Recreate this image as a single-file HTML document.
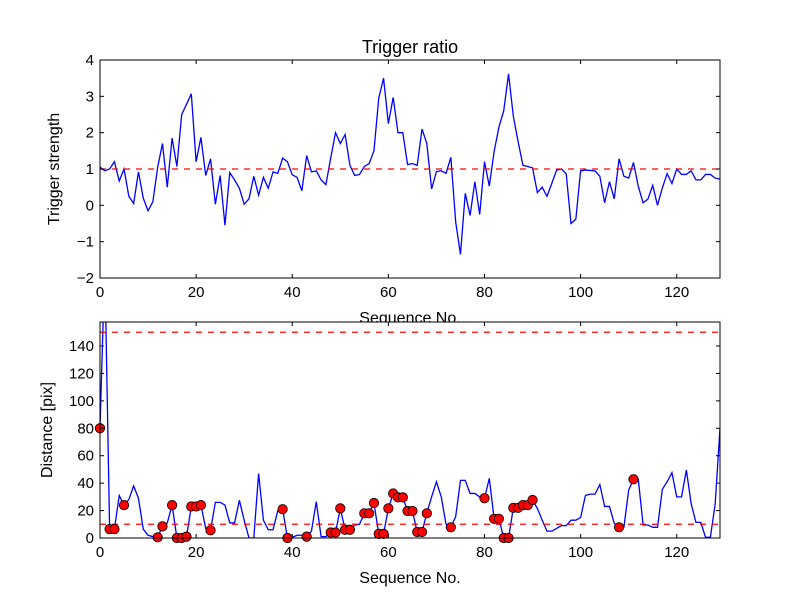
<!DOCTYPE html>
<html><head><meta charset="utf-8"><style>
body{margin:0;background:#fff;}
svg{display:block;font-family:"Liberation Sans","DejaVu Sans",sans-serif;}
</style></head><body>
<svg id="chart" width="800" height="600" viewBox="0 0 800 600" xmlns="http://www.w3.org/2000/svg">
<rect width="800" height="600" fill="#fff"/>
</svg>
<script>
const triggerValues=[1.05,0.95,1.0,1.2,0.67,1.0,0.25,0.05,0.92,0.2,-0.15,0.1,1.05,1.7,0.5,1.85,1.07,2.5,2.78,3.07,1.2,1.87,0.82,1.28,0.03,0.82,-0.55,0.9,0.7,0.47,0.03,0.18,0.8,0.28,0.77,0.47,0.92,0.88,1.3,1.2,0.84,0.77,0.4,1.37,0.92,0.95,0.7,0.57,1.3,2.0,1.7,1.95,1.1,0.82,0.85,1.07,1.15,1.5,2.95,3.5,2.25,2.97,2.0,2.0,1.12,1.15,1.1,2.1,1.7,0.45,0.93,0.95,0.88,1.32,-0.45,-1.35,0.33,-0.28,0.65,-0.25,1.2,0.53,1.48,2.15,2.6,3.62,2.45,1.75,1.1,1.07,1.03,0.35,0.5,0.25,0.6,0.97,1.0,0.87,-0.5,-0.38,0.95,0.97,0.96,0.95,0.8,0.07,0.65,0.18,1.28,0.8,0.75,1.18,0.52,0.07,0.17,0.55,0.0,0.48,0.87,0.6,1.0,0.85,0.85,0.95,0.7,0.7,0.85,0.85,0.75,0.72];
const distanceValues=[80,200,6.5,6.5,31,24,28,38,29,6.5,2,1,0.5,8.5,11,24,0,0,1,23,23,24,7,5.6,26,26,24,11,11,27.5,13,0,0,47,13,6,6,20,21,0,0.5,2,2,1,5,26.5,1,1,4,4,21.6,6,6,9.5,10,18,18,25.5,3,3,21.6,32.5,29.6,29.6,19.7,19.7,4.4,4.4,18,30,41,30,10,7.8,15.5,42,42,32.5,32.5,30,29,43.5,14,14,0,0,22,22,24,24,27.7,21.6,13,5,5,7,9,9,13,13,15,31,32,32,39,23,23,10.7,7.8,7.8,35,42.8,42.8,9.5,9.5,7.8,7.8,35.5,41,47.6,30,30,49.6,25,11.4,11.4,0.5,0.5,25,80];
const markerIndices=[0,2,3,5,12,13,15,16,17,18,19,20,21,23,38,39,43,48,49,50,51,52,55,56,57,58,59,60,61,62,63,64,65,66,67,68,73,80,82,83,84,85,86,87,88,89,90,108,111];
const xTicks=[0,20,40,60,80,100,120];
const topYTicks=[-2,-1,0,1,2,3,4];
const botYTicks=[0,20,40,60,80,100,120,140];
const topThreshold=[1];
const botThresholds=[150,10];

const NS="http://www.w3.org/2000/svg";
const svgEl=document.getElementById('chart');
function mk(tag,attrs,parent){const e=document.createElementNS(NS,tag);for(const k in attrs)e.setAttribute(k,attrs[k]);(parent||svgEl).appendChild(e);return e;}
const L=100,R=720,XMAX=129;
const sx=v=>L+(R-L)*v/XMAX;
const topAx={t:60,b:278,min:-2,max:4};
const botAx={t:322,b:538,min:0,max:157.5};
const syT=v=>topAx.b-(v-topAx.min)/(topAx.max-topAx.min)*(topAx.b-topAx.t);
const syB=v=>botAx.b-(v-botAx.min)/(botAx.max-botAx.min)*(botAx.b-botAx.t);

const defs=mk('defs',{});
const cp=mk('clipPath',{id:'cb'},defs);mk('rect',{x:L,y:botAx.t,width:R-L,height:botAx.b-botAx.t},cp);
const cp2=mk('clipPath',{id:'ct'},defs);mk('rect',{x:L,y:topAx.t,width:R-L,height:topAx.b-topAx.t},cp2);

function axes(ax,sy,yt,name,xlabel,ylabel){
  const g=mk('g',{});
  
  
  xTicks.forEach(v=>{
    const x=sx(v);
    mk('line',{x1:x,x2:x,y1:ax.b,y2:ax.b-4,stroke:'#000'},g);
    mk('line',{x1:x,x2:x,y1:ax.t,y2:ax.t+4,stroke:'#000'},g);
    const t=mk('text',{x:x,y:ax.b+19,'text-anchor':'middle','font-size':'15'},g);t.textContent=v;
    
    
  });
  yt.forEach(v=>{
    const y=sy(v);
    mk('line',{x1:L,x2:L+4,y1:y,y2:y,stroke:'#000'},g);
    mk('line',{x1:R,x2:R-4,y1:y,y2:y,stroke:'#000'},g);
    const t=mk('text',{x:L-6,y:y+5,'text-anchor':'end','font-size':'15'},g);t.textContent=(v<0?'\u2212'+(-v):v);
    
    
  });
  const xl=mk('text',{x:410,y:ax.b+45,'text-anchor':'middle','font-size':'16'},g);xl.textContent=xlabel;
  
  
  const yl=mk('text',{x:0,y:0,'text-anchor':'middle','font-size':'16',transform:`translate(${name==='top'?59:52},${(ax.t+ax.b)/2}) rotate(-90)`},g);yl.textContent=ylabel;
  
  
}

const tl=mk('polyline',{points:triggerValues.map((v,i)=>sx(i)+','+syT(v)).join(' '),fill:'none',stroke:'#0000ff','stroke-width':1.3,'clip-path':'url(#ct)'});


topThreshold.forEach(v=>{const l=mk('line',{x1:L,x2:R,y1:syT(v),y2:syT(v),stroke:'#ff0000','stroke-width':1.3,'stroke-dasharray':'6,6'});

});
mk('rect',{x:L,y:topAx.t,width:R-L,height:topAx.b-topAx.t,fill:'none',stroke:'#000','stroke-width':1});
axes(topAx,syT,topYTicks,'top','Sequence No.','Trigger strength');
const title=mk('text',{x:410,y:53,'text-anchor':'middle','font-size':'18'});title.textContent='Trigger ratio';



mk('rect',{x:L,y:botAx.t,width:R-L,height:botAx.b-botAx.t,fill:'#fff'});
const bl=mk('polyline',{points:distanceValues.map((v,i)=>sx(i)+','+syB(v)).join(' '),fill:'none',stroke:'#0000ff','stroke-width':1.3,'clip-path':'url(#cb)'});


botThresholds.forEach(v=>{const l=mk('line',{x1:L,x2:R,y1:syB(v),y2:syB(v),stroke:'#ff0000','stroke-width':1.3,'stroke-dasharray':'6,6'});

});
markerIndices.forEach(i=>{
  const c=mk('circle',{cx:sx(i),cy:syB(distanceValues[i]),r:4.7,fill:'#ff0000',stroke:'#000','stroke-width':0.8});
  
  
});
mk('rect',{x:L,y:botAx.t,width:R-L,height:botAx.b-botAx.t,fill:'none',stroke:'#000','stroke-width':1});
axes(botAx,syB,botYTicks,'bottom','Sequence No.','Distance [pix]');
</script>
</body></html>
